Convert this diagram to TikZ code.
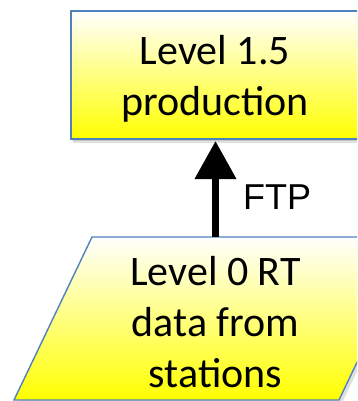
\documentclass[tikz,border=0pt]{standalone}
\usepackage{fontspec}
\setmainfont{Carlito}
\newfontfamily\labelfont{Liberation Sans}
\usetikzlibrary{arrows.meta}
\definecolor{officeblue}{RGB}{79,129,189}
\tikzset{
  boxtext/.style={align=center, font=\fontsize{42}{51}\selectfont, inner sep=0pt},
  arrowlabel/.style={font=\labelfont\fontsize{36}{43}\selectfont, inner sep=0pt},
  yellowfill/.style={top color=white, bottom color=yellow},
  softshadow/.style={fill=black, opacity=0.12},
}
\begin{document}
\begin{tikzpicture}[x=1pt,y=-1pt]
\useasboundingbox (0,0) rectangle (357,401);
\clip (0,0) rectangle (357,401);
% shadows
\fill[softshadow] (73,14) rectangle (362,143);
\fill[softshadow] (72,13) rectangle (361,141);
\fill[softshadow] (95,240) -- (420,240) -- (342,403) -- (17,403) -- cycle;
% top box
\node[draw=officeblue, line width=2.2pt, yellowfill, minimum width=288pt, minimum height=128pt, inner sep=0pt] (prod) at (215,75) {};
\node[boxtext, anchor=base] (prodtext) at (215,115) {Level 1.5\\production};
% bottom parallelogram
\coordinate (pA) at (92,237);
\coordinate (pB) at (417,237);
\coordinate (pC) at (339,400);
\coordinate (pD) at (14,400);
\draw[officeblue, line width=1.4pt, yellowfill] (pA) -- (pB) -- (pC) -- (pD) -- cycle;
\node[boxtext, anchor=base] (src) at (215.5,387) {Level 0 RT\\data from\\stations};
% arrow
\coordinate (arrowstart) at (215.5,237);
\coordinate (arrowend) at (215.5,141);
\draw[line width=7pt, -{Triangle[width=40pt,length=38pt]}] (arrowstart) -- (arrowend);
\node[arrowlabel, anchor=base west] (ftp) at (243,209) {FTP};
\end{tikzpicture}
\end{document}
